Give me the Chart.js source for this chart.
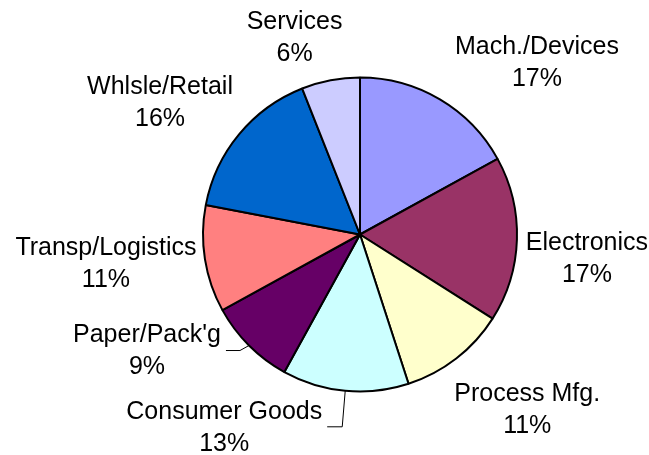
<!DOCTYPE html>
<html>
<head>
<meta charset="utf-8">
<title>Sectors</title>
<script src="https://cdn.jsdelivr.net/npm/chart.js@4/dist/chart.umd.min.js"></script>
<style>
  html, body { margin: 0; padding: 0; background: #fff; }
  #wrap { width: 649px; height: 455px; }
</style>
</head>
<body>
<div id="wrap"><canvas id="pieChart" width="649" height="455"></canvas></div>
<script>
const sectors = ['Mach./Devices', 'Electronics', 'Process Mfg.', 'Consumer Goods',
                 'Paper/Pack\'g', 'Transp/Logistics', 'Whlsle/Retail', 'Services'];
const shares = [17, 17, 11, 13, 9, 11, 16, 6];
const sliceColors = ['#9999FF', '#993366', '#FFFFCC', '#CCFFFF',
                     '#660066', '#FF8080', '#0066CC', '#CCCCFF'];

// label block offset from the slice's outer mid point
const labelOffsets = [[97, -36], [70, 20], [71, 52], [-121, 37],
                      [-102, 6], [-99, 5], [-79, -31], [-36, -42]];
// slices whose label hangs off a leader line (elbow x shift)
const leaders = { 3: -3, 4: -9 };

const FONT = '25px "Liberation Sans", Arial, sans-serif';
const LINE = 32;

const pieLabels = {
    id: 'pieLabels',
    afterDatasetsDraw(chart) {
        const ctx = chart.ctx;
        const meta = chart.getDatasetMeta(0);
        const total = shares.reduce((a, b) => a + b, 0);
        ctx.save();
        ctx.font = FONT;
        ctx.fillStyle = '#000';
        ctx.textAlign = 'center';
        ctx.textBaseline = 'middle';
        meta.data.forEach((arc, i) => {
            const { x, y, startAngle, endAngle, outerRadius } =
                arc.getProps(['x', 'y', 'startAngle', 'endAngle', 'outerRadius'], true);
            const mid = (startAngle + endAngle) / 2;
            const px = x + Math.cos(mid) * outerRadius;
            const py = y + Math.sin(mid) * outerRadius;
            const cx = px + labelOffsets[i][0];
            const cy = py + labelOffsets[i][1];
            const pct = Math.round(shares[i] / total * 100) + '%';
            ctx.fillText(sectors[i], cx, cy - LINE / 2);
            ctx.fillText(pct, cx, cy + LINE / 2);

            if (leaders[i] !== undefined) {
                const w = ctx.measureText(sectors[i]).width;
                const ly = cy - LINE / 2 + 15;
                ctx.beginPath();
                ctx.moveTo(px, py);
                ctx.lineTo(px + leaders[i], ly);
                ctx.lineTo(cx + w / 2 + 5, ly);
                ctx.strokeStyle = '#000';
                ctx.lineWidth = 1;
                ctx.stroke();
            }
        });
        ctx.restore();
    }
};

new Chart(document.getElementById('pieChart'), {
    type: 'pie',
    data: {
        labels: sectors,
        datasets: [{
            data: shares,
            backgroundColor: sliceColors,
            borderColor: '#000',
            borderWidth: 2,
            hoverOffset: 0
        }]
    },
    options: {
        responsive: false,
        animation: false,
        events: [],
        layout: {
            padding: { left: 202, right: 131, top: 76.5, bottom: 62.5 }
        },
        plugins: {
            legend: { display: false },
            tooltip: { enabled: false }
        }
    },
    plugins: [pieLabels]
});
</script>
</body>
</html>
